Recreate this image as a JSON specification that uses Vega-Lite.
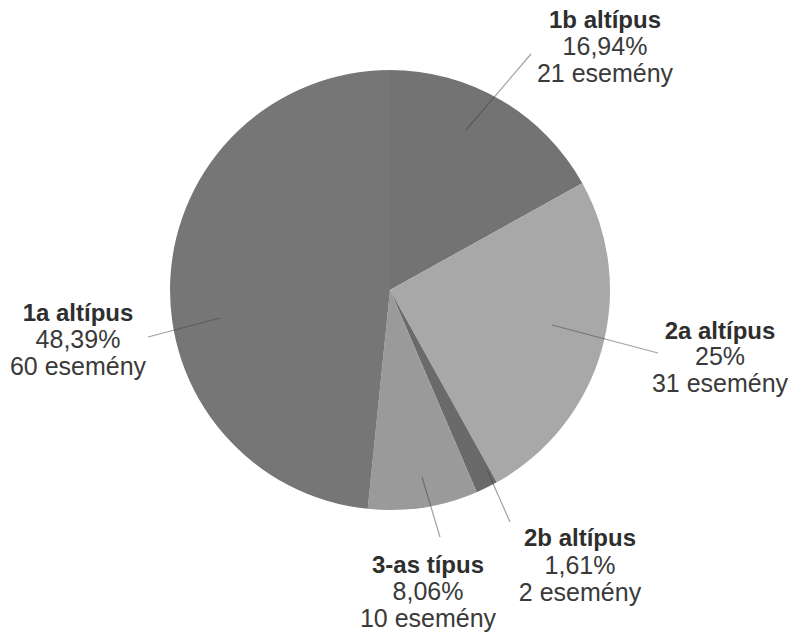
{
  "$schema": "https://vega.github.io/schema/vega-lite/v6.json",
  "width": 794,
  "height": 636,
  "padding": 0,
  "autosize": {"type": "none"},
  "background": "white",
  "config": {"view": {"stroke": null}, "text": {"font": "Liberation Sans", "fontSize": 24, "fill": "#2e2e2e"}},
  "datasets": {
    "slices": [
      {"name": "1b altípus", "count": 21, "share": "16,94%"},
      {"name": "2a altípus", "count": 31, "share": "25%"},
      {"name": "2b altípus", "count": 2, "share": "1,61%"},
      {"name": "3-as típus", "count": 10, "share": "8,06%"},
      {"name": "1a altípus", "count": 60, "share": "48,39%"}
    ]
  },
  "data": {"name": "slices"},
  "transform": [
    {"calculate": "indexof(['1b altípus','2a altípus','2b altípus','3-as típus','1a altípus'], datum.name)", "as": "rank"},
    {"calculate": "[datum.share, datum.count + ' esemény']", "as": "body"}
  ],
  "layer": [
    {
      "mark": {"type": "arc", "radius": 220},
      "encoding": {
        "x": {"datum": 0, "type": "quantitative", "scale": {"domain": [-1.77273, 1.83636], "nice": false, "zero": false}, "axis": null},
        "y": {"datum": 0, "type": "quantitative", "scale": {"domain": [-1.57273, 1.31818], "nice": false, "zero": false}, "axis": null},
        "theta": {"field": "count", "type": "quantitative", "stack": true},
        "order": {"field": "rank", "type": "quantitative"},
        "color": {"field": "name", "type": "nominal", "legend": null,
          "scale": {"domain": ["1b altípus", "2a altípus", "2b altípus", "3-as típus", "1a altípus"],
                    "range": ["#737373", "#a8a8a8", "#6a6a6a", "#9a9a9a", "#767676"]}}
      }
    },
    {
      "transform": [{"filter": "datum.name === '1b altípus'"}],
      "layer": [
        {"mark": {"type": "rule", "stroke": "#444444", "strokeOpacity": 0.5, "strokeWidth": 1.2},
         "encoding": {"x": {"datum": 0.3455, "type": "quantitative"}, "y": {"datum": 0.7273, "type": "quantitative"}, "x2": {"datum": 0.6409}, "y2": {"datum": 1.0727}}},
        {"mark": {"type": "text", "fontWeight": "bold", "align": "center", "baseline": "alphabetic"},
         "encoding": {"x": {"datum": 0.9773, "type": "quantitative"}, "y": {"datum": 1.1909, "type": "quantitative"}, "text": {"field": "name"}}},
        {"mark": {"type": "text", "align": "center", "baseline": "alphabetic", "lineHeight": 27, "fontSize": 25, "fill": "#3a3a3a"},
         "encoding": {"x": {"datum": 0.9773, "type": "quantitative"}, "y": {"datum": 1.0682, "type": "quantitative"}, "text": {"field": "body"}}}
      ]
    },
    {
      "transform": [{"filter": "datum.name === '2a altípus'"}],
      "layer": [
        {"mark": {"type": "rule", "stroke": "#444444", "strokeOpacity": 0.5, "strokeWidth": 1.2},
         "encoding": {"x": {"datum": 0.7364, "type": "quantitative"}, "y": {"datum": -0.1591, "type": "quantitative"}, "x2": {"datum": 1.2182}, "y2": {"datum": -0.2864}}},
        {"mark": {"type": "text", "fontWeight": "bold", "align": "center", "baseline": "alphabetic"},
         "encoding": {"x": {"datum": 1.5, "type": "quantitative"}, "y": {"datum": -0.2227, "type": "quantitative"}, "text": {"field": "name"}}},
        {"mark": {"type": "text", "align": "center", "baseline": "alphabetic", "lineHeight": 27, "fontSize": 25, "fill": "#3a3a3a"},
         "encoding": {"x": {"datum": 1.5, "type": "quantitative"}, "y": {"datum": -0.3409, "type": "quantitative"}, "text": {"field": "body"}}}
      ]
    },
    {
      "transform": [{"filter": "datum.name === '2b altípus'"}],
      "layer": [
        {"mark": {"type": "rule", "stroke": "#444444", "strokeOpacity": 0.5, "strokeWidth": 1.2},
         "encoding": {"x": {"datum": 0.4409, "type": "quantitative"}, "y": {"datum": -0.8182, "type": "quantitative"}, "x2": {"datum": 0.5455}, "y2": {"datum": -1.0545}}},
        {"mark": {"type": "text", "fontWeight": "bold", "align": "center", "baseline": "alphabetic"},
         "encoding": {"x": {"datum": 0.8636, "type": "quantitative"}, "y": {"datum": -1.1636, "type": "quantitative"}, "text": {"field": "name"}}},
        {"mark": {"type": "text", "align": "center", "baseline": "alphabetic", "lineHeight": 27, "fontSize": 25, "fill": "#3a3a3a"},
         "encoding": {"x": {"datum": 0.8636, "type": "quantitative"}, "y": {"datum": -1.2909, "type": "quantitative"}, "text": {"field": "body"}}}
      ]
    },
    {
      "transform": [{"filter": "datum.name === '3-as típus'"}],
      "layer": [
        {"mark": {"type": "rule", "stroke": "#444444", "strokeOpacity": 0.5, "strokeWidth": 1.2},
         "encoding": {"x": {"datum": 0.1455, "type": "quantitative"}, "y": {"datum": -0.85, "type": "quantitative"}, "x2": {"datum": 0.2273}, "y2": {"datum": -1.1227}}},
        {"mark": {"type": "text", "fontWeight": "bold", "align": "center", "baseline": "alphabetic"},
         "encoding": {"x": {"datum": 0.1727, "type": "quantitative"}, "y": {"datum": -1.2864, "type": "quantitative"}, "text": {"field": "name"}}},
        {"mark": {"type": "text", "align": "center", "baseline": "alphabetic", "lineHeight": 27, "fontSize": 25, "fill": "#3a3a3a"},
         "encoding": {"x": {"datum": 0.1727, "type": "quantitative"}, "y": {"datum": -1.4091, "type": "quantitative"}, "text": {"field": "body"}}}
      ]
    },
    {
      "transform": [{"filter": "datum.name === '1a altípus'"}],
      "layer": [
        {"mark": {"type": "rule", "stroke": "#444444", "strokeOpacity": 0.5, "strokeWidth": 1.2},
         "encoding": {"x": {"datum": -0.7727, "type": "quantitative"}, "y": {"datum": -0.1273, "type": "quantitative"}, "x2": {"datum": -1.1}, "y2": {"datum": -0.2136}}},
        {"mark": {"type": "text", "fontWeight": "bold", "align": "center", "baseline": "alphabetic"},
         "encoding": {"x": {"datum": -1.4182, "type": "quantitative"}, "y": {"datum": -0.1409, "type": "quantitative"}, "text": {"field": "name"}}},
        {"mark": {"type": "text", "align": "center", "baseline": "alphabetic", "lineHeight": 27, "fontSize": 25, "fill": "#3a3a3a"},
         "encoding": {"x": {"datum": -1.4182, "type": "quantitative"}, "y": {"datum": -0.2636, "type": "quantitative"}, "text": {"field": "body"}}}
      ]
    }
  ]
}
